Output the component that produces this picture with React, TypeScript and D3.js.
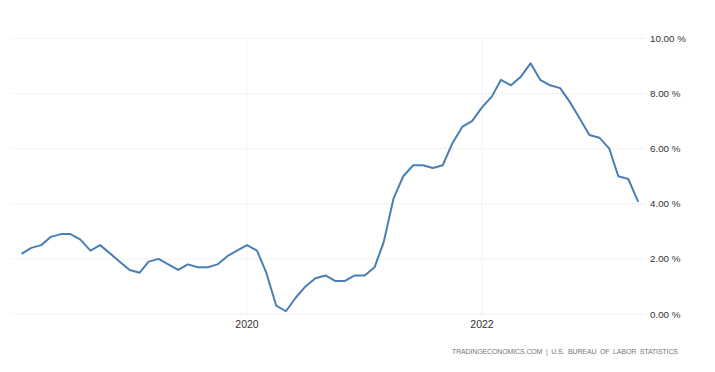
import React from "react";
import * as d3 from "d3";

const startYear = 2018;
const startMonth = 1; // Feb (0-based)
const values = [
  2.2, 2.4, 2.5, 2.8, 2.9, 2.9, 2.7, 2.3, 2.5, 2.2, 1.9,
  1.6, 1.5, 1.9, 2.0, 1.8, 1.6, 1.8, 1.7, 1.7, 1.8, 2.1, 2.3,
  2.5, 2.3, 1.5, 0.3, 0.1, 0.6, 1.0, 1.3, 1.4, 1.2, 1.2, 1.4,
  1.4, 1.7, 2.6, 4.2, 5.0, 5.4, 5.4, 5.3, 5.4, 6.2, 6.8, 7.0,
  7.5, 7.9, 8.5, 8.3, 8.6, 9.1, 8.5, 8.3, 8.2, 7.7, 7.1, 6.5,
  6.4, 6.0, 5.0, 4.9, 4.1,
];
const yTicks = [0, 2, 4, 6, 8, 10];
const xTickYears = [2020, 2022];
const sourceText = "TRADINGECONOMICS.COM  |  U.S.  BUREAU  OF  LABOR  STATISTICS";

export default function App() {
  const W = 715, H = 372;
  const data = values.map((v, i) => ({ date: new Date(startYear, startMonth + i, 1), v }));
  const x = d3.scaleTime()
    .domain([new Date(2020, 0, 1), new Date(2022, 0, 1)])
    .range([247, 482]);
  const y = d3.scaleLinear().domain([0, 10]).range([314, 38.5]);
  const line = d3.line<{ date: Date; v: number }>()
    .x(d => x(d.date))
    .y(d => y(d.v));
  const left = 12, right = 646;
  return (
    <svg width={W} height={H} style={{ position: "absolute", left: 0, top: 0, background: "#fff" }}
      fontFamily="'Liberation Sans', Arial, sans-serif">
      {yTicks.map(t => (
        <g key={t}>
          <line x1={left} x2={right} y1={y(t)} y2={y(t)} stroke="#e6e6e6" strokeWidth={1} strokeDasharray="1,1" />
          <text x={650} y={y(t) + 3.5} fontSize={9.8} fill="#333">{t.toFixed(2)} %</text>
        </g>
      ))}
      {xTickYears.map(yr => (
        <g key={yr}>
          <line x1={x(new Date(yr, 0, 1))} x2={x(new Date(yr, 0, 1))} y1={40} y2={316} stroke="#e6e6e6" strokeWidth={1} strokeDasharray="1,1" />
          <text x={x(new Date(yr, 0, 1))} y={327.5} fontSize={10.5} fill="#333" textAnchor="middle">{yr}</text>
        </g>
      ))}
      <path d={line(data) || ""} fill="none" stroke="#4a7fb3" strokeWidth={2} strokeLinejoin="round" strokeLinecap="round" />
      <text x={678} y={354} fontSize={7} fill="#777" textAnchor="end" textLength={226} lengthAdjust="spacing" style={{ whiteSpace: "pre" }}>{sourceText}</text>
    </svg>
  );
}
